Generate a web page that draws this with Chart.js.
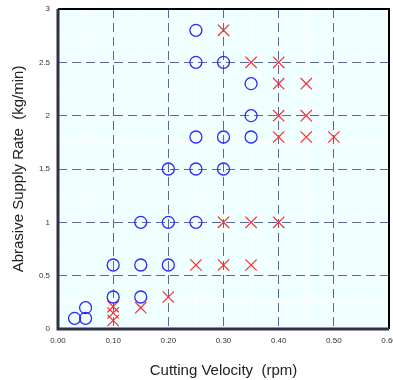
<!DOCTYPE html>
<html>
<head>
<meta charset="utf-8">
<script src="https://cdn.jsdelivr.net/npm/chart.js@4/dist/chart.umd.min.js"></script>
<style>
  html, body { margin: 0; padding: 0; background: #fff; }
  #wrap { width: 393px; height: 380px; }
</style>
</head>
<body>
<div id="wrap"><canvas id="c" width="393" height="380"></canvas></div>
<script>
// cutting OK (circles)
const okVelocity = [0.03, 0.05, 0.05, 0.10, 0.15, 0.10, 0.15, 0.20, 0.15, 0.20, 0.25,
                    0.20, 0.25, 0.30, 0.25, 0.30, 0.35, 0.35, 0.35, 0.25, 0.30, 0.25];
const okSupply   = [0.10, 0.10, 0.20, 0.30, 0.30, 0.60, 0.60, 0.60, 1.00, 1.00, 1.00,
                    1.50, 1.50, 1.50, 1.80, 1.80, 1.80, 2.00, 2.30, 2.50, 2.50, 2.80];
// cutting failed (crosses)
const ngVelocity = [0.10, 0.10, 0.10, 0.15, 0.20, 0.25, 0.30, 0.35, 0.30, 0.35, 0.40,
                    0.40, 0.45, 0.50, 0.40, 0.45, 0.40, 0.45, 0.35, 0.40, 0.30];
const ngSupply   = [0.08, 0.15, 0.21, 0.20, 0.30, 0.60, 0.60, 0.60, 1.00, 1.00, 1.00,
                    1.80, 1.80, 1.80, 2.00, 2.00, 2.30, 2.30, 2.50, 2.50, 2.80];

const xMinorTicks = [0.05, 0.15, 0.25, 0.35, 0.45, 0.55];
const yMinorTicks = [0.25, 0.75, 1.25, 1.75, 2.25, 2.75];

function toPoints(xs, ys) {
    return xs.map((x, i) => ({ x: x, y: ys[i] }));
}

// background + faint white minor grid, frame on top
const plotFrame = {
    id: 'plotFrame',
    beforeDraw(chart) {
        const { ctx, chartArea: a, scales } = chart;
        ctx.save();
        ctx.fillStyle = '#f0ffff';
        ctx.fillRect(a.left, a.top, a.right - a.left, a.bottom - a.top);
        ctx.strokeStyle = '#ffffff';
        ctx.lineWidth = 1;
        xMinorTicks.forEach(v => {
            const px = Math.round(scales.x.getPixelForValue(v)) + 0.5;
            ctx.beginPath(); ctx.moveTo(px, a.top); ctx.lineTo(px, a.bottom); ctx.stroke();
        });
        yMinorTicks.forEach(v => {
            const py = Math.round(scales.y.getPixelForValue(v)) + 0.5;
            ctx.beginPath(); ctx.moveTo(a.left, py); ctx.lineTo(a.right, py); ctx.stroke();
        });
        ctx.restore();
    },
    afterDraw(chart) {
        const { ctx, chartArea: a } = chart;
        ctx.save();
        ctx.strokeStyle = '#000000';
        ctx.lineWidth = 2;
        ctx.beginPath();
        ctx.moveTo(a.left, a.top); ctx.lineTo(a.right, a.top); ctx.lineTo(a.right, a.bottom);
        ctx.stroke();
        ctx.strokeStyle = '#303048';
        ctx.lineWidth = 3;
        ctx.beginPath();
        ctx.moveTo(a.left, a.top); ctx.lineTo(a.left, a.bottom); ctx.lineTo(a.right, a.bottom);
        ctx.stroke();
        ctx.restore();
    }
};

const tickFont = { family: 'Liberation Sans', size: 8 };
const titleFont = { family: 'Liberation Sans', size: 15 };
const gridDash = '#5c6898';

new Chart(document.getElementById('c'), {
    type: 'scatter',
    data: {
        datasets: [{
            label: 'OK',
            data: toPoints(okVelocity, okSupply),
            pointStyle: 'circle',
            pointRadius: 6,
            pointHoverRadius: 6,
            borderColor: '#2a2aff',
            backgroundColor: 'rgba(0,0,0,0)',
            borderWidth: 1.3
        }, {
            label: 'NG',
            data: toPoints(ngVelocity, ngSupply),
            pointStyle: 'crossRot',
            pointRadius: 8,
            pointHoverRadius: 8,
            borderColor: '#ff2a2a',
            backgroundColor: 'rgba(0,0,0,0)',
            borderWidth: 1.2
        }]
    },
    options: {
        responsive: false,
        animation: false,
        layout: { autoPadding: false, padding: { left: 0, right: 4, top: 9, bottom: 0 } },
        plugins: { legend: { display: false }, tooltip: { enabled: false } },
        scales: {
            x: {
                type: 'linear',
                min: 0, max: 0.6,
                afterFit(scale) {
                    scale.height = 51;
                    scale.paddingLeft = 0;
                    scale.paddingRight = 0;
                },
                ticks: {
                    stepSize: 0.1,
                    font: tickFont,
                    color: '#333',
                    padding: 7,
                    maxRotation: 0,
                    callback: v => v.toFixed(2)
                },
                grid: { color: gridDash, lineWidth: 1, drawTicks: false },
                border: { display: false, dash: [9, 5] },
                title: {
                    display: true,
                    text: 'Cutting Velocity  (rpm)',
                    font: titleFont,
                    color: '#222',
                    padding: { top: 9, bottom: 0 }
                }
            },
            y: {
                type: 'linear',
                min: 0, max: 3,
                afterFit(scale) {
                    scale.width = 58;
                    scale.paddingTop = 0;
                    scale.paddingBottom = 0;
                },
                ticks: {
                    stepSize: 0.5,
                    font: tickFont,
                    color: '#333',
                    padding: 8,
                    callback: v => String(v)
                },
                grid: { color: gridDash, lineWidth: 1, drawTicks: false },
                border: { display: false, dash: [9, 5] },
                title: {
                    display: true,
                    text: 'Abrasive Supply Rate  (kg/min)',
                    font: titleFont,
                    color: '#222',
                    padding: { top: 10, bottom: 4 }
                }
            }
        }
    },
    plugins: [plotFrame]
});
</script>
</body>
</html>
